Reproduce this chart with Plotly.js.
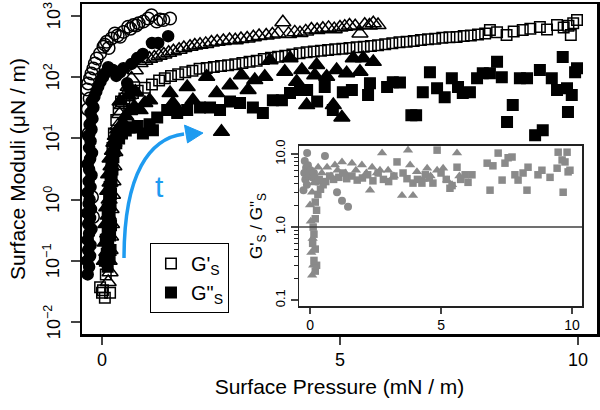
<!DOCTYPE html>
<html><head><meta charset="utf-8">
<script src="https://cdn.plot.ly/plotly-3.0.1.min.js"></script>
<style>body{margin:0;background:#fff}#g{width:600px;height:410px}</style>
</head><body><div id="g"></div>
<script>
// ---- main panel: surface moduli vs surface pressure ----
const circOpenX = [-0.31,-0.29,-0.25,-0.22,-0.18,-0.15,-0.11,-0.04,0.03,0.10,0.20,0.27,0.38,0.45,0.55,0.66,0.77,0.87,0.97,1.04,1.15,1.29,1.43,-0.21,-0.19,-0.28,-0.30,-0.26,0.06,0.14,0.33,0.60,0.72,1.22];
const circOpenY = [63,79,96,115,139,168,203,245,314,379,430,520,457,550,670,710,760,810,910,1030,810,860,910,1.1,0.52,12,30,45,340,300,480,620,700,880];

const circFillX = [-0.30,-0.27,-0.31,-0.25,-0.29,-0.24,-0.30,-0.27,-0.22,-0.29,-0.25,-0.31,-0.23,-0.28,-0.26,-0.30,-0.24,-0.28,-0.22,-0.27,-0.30,-0.25,-0.21,-0.27,-0.24,-0.29,-0.22,-0.26,-0.20,-0.24,-0.18,-0.22,-0.16,-0.12,-0.08,-0.03,0.02,0.06,0.13,0.23,0.53,0.55,0.74,1.05,1.18,1.39,0.38,0.45,0.30,0.62,0.86];
const circFillY = [0.06,0.08,0.10,0.12,0.15,0.18,0.22,0.28,0.33,0.4,0.5,0.6,0.7,0.85,1.0,1.3,1.6,2.0,2.5,3.1,3.8,4.6,5.8,7,9,11,14,17,21,26,32,40,48,58,70,85,100,115,146,131,80,69,205,362,362,468,120,140,105,165,240];

const triOpenX = [0.13,0.17,0.15,0.17,0.18,0.20,0.19,0.22,0.23,0.25,0.27,0.30,0.33,0.37,0.42,0.48,0.55,0.62,0.70,0.80,0.90,1.00,1.10,1.20,1.30,1.40,1.50,1.62,1.72,1.85,1.95,2.06,2.18,2.30,2.42,2.55,2.68,2.80,2.92,3.05,3.18,3.30,3.45,3.58,3.70,3.80,3.92,4.05,4.16,4.28,4.40,4.52,4.64,4.76,4.88,5.00,5.10,5.20,5.32,5.42,5.52,5.62,5.70,5.80];
const triOpenY = [0.045,0.065,0.1,0.15,0.25,0.4,0.7,1.2,2,3.5,6,10,16,25,35,50,70,95,130,170,185,200,210,225,235,250,265,280,300,315,330,340,350,370,380,390,405,400,420,430,450,470,480,500,520,790,510,540,525,560,600,590,620,640,610,650,670,700,680,520,720,700,760,710];

const triFillX = [0.05,0.10,0.07,0.12,0.08,0.13,0.10,0.15,0.12,0.17,0.14,0.19,0.17,0.22,0.25,0.28,0.33,0.44,0.50,0.58,0.68,0.80,0.90,1.00,0.38,0.55,0.70,1.43,1.49,1.79,1.91,2.20,2.41,2.51,2.69,2.93,3.07,3.21,3.42,3.53,3.84,3.95,4.09,4.20,4.30,4.47,4.51,4.72,4.86,4.93,5.04,5.14,5.28,5.42,5.49,5.70];
const triFillY = [0.10,0.14,0.2,0.28,0.4,0.55,0.75,1.0,1.4,1.9,2.6,3.5,4.7,6.3,8.5,11,14,18,23,28,33,29,38,42,40,50,58,55,38,69,42,102,55,12.8,74,108,62,90,102,190,123,204,84,131,35,108,158,102,35,131,22,116,204,123,204,178];

const sqOpenX = [-0.04,0.00,0.06,0.17,0.02,0.08,0.10,0.12,0.13,0.15,0.18,0.20,0.22,0.25,0.30,0.35,0.40,0.47,0.55,0.65,0.75,0.90,1.05,1.20,1.32,1.45,1.60,1.75,1.90,2.05,2.20,2.35,2.50,2.65,2.80,2.95,3.10,3.25,3.40,3.55,3.70,3.85,4.00,4.15,4.30,4.45,4.60,4.75,4.90,5.05,5.20,5.35,5.50,5.65,5.80,5.95,6.10,6.25,6.40,6.55,6.70,6.85,7.00,7.15,7.30,7.45,7.60,7.75,7.90,8.05,8.15,8.30,8.50,8.65,8.84,9.00,9.20,9.35,9.56,9.70,9.80,9.90,9.98,9.85];
const sqOpenY = [0.037,0.03,0.025,0.03,0.033,0.06,0.1,0.2,0.4,0.8,1.5,3,7,12,20,30,40,45,50,55,60,67,76,88,96,105,112,120,128,138,142,147,152,157,163,170,178,186,198,207,215,225,235,246,255,262,270,277,285,292,300,310,315,322,333,345,360,372,380,390,405,415,425,440,450,455,470,480,500,520,590,540,490,560,590,620,660,600,710,650,690,760,860,490];

const sqFillX = [0.12,0.06,0.16,0.10,0.18,0.13,0.08,0.17,0.12,0.19,0.14,0.16,0.12,0.18,0.15,0.19,0.16,0.20,0.18,0.22,0.20,0.24,0.26,0.30,0.36,0.42,0.50,0.58,0.65,0.75,0.86,1.00,1.07,1.16,1.37,1.58,1.79,2.06,2.27,2.48,2.69,2.90,3.17,3.38,3.59,3.78,3.95,4.16,4.31,4.52,4.68,4.85,5.06,5.25,5.59,5.63,5.99,6.11,6.26,6.50,6.60,6.74,6.89,7.04,7.20,7.35,7.48,7.58,7.73,7.88,8.00,8.15,8.30,8.40,8.51,8.63,8.78,8.93,9.10,9.20,9.26,9.45,9.56,9.68,9.77,9.79,9.87,9.94,9.98];
const sqFillY = [0.08,0.1,0.11,0.13,0.15,0.18,0.22,0.26,0.32,0.38,0.46,0.56,0.68,0.82,1.0,1.25,1.6,2.0,2.5,3.1,3.9,4.9,6.2,8.3,10,12,13.5,15,15,16,12,17,13.6,22,29,26,29,32,32,29,40,38,32,26,42,42,55,62,62,40,69,29,57,62,51,80,69,83,82,24,24,57,121,66,47,96,69,55,57,96,116,116,178,100,18.5,35,96,96,11.3,131,13.6,96,62,213,66,27,51,121,140];

// ---- inset: G'/G'' ratio ----
const inCircX = [-0.11,0.57,1.03,1.22,1.45,-0.2,-0.15,-0.22,-0.08,-0.18,-0.05,0.02,-0.12,0.08,0.15,0.25,-0.25];
const inCircY = [10.3,9.4,3.0,2.3,1.9,8,6.5,5.5,7,4.5,5,6,3.8,4.8,5.5,4.2,3.2];
const inTriX = [0.08,0.12,0.05,0.1,0.03,0.0,0.08,0.14,0.2,0.31,0.45,0.65,0.8,0.95,1.05,1.22,1.35,1.6,1.75,1.98,2.15,2.29,2.37,2.55,2.67,2.75,2.98,3.2,3.51,3.74,3.82,3.93,4.08,4.3,4.47,4.6,4.85,5.08,5.23,5.42,5.61,5.7];
const inTriY = [0.22,0.3,0.45,0.7,1.2,2,3,4,5,6.6,5.5,6.6,5,7.1,6,7.8,5.5,7.5,6,7.1,5.5,3.2,6.6,5.5,6,10.3,6,5,2.7,11.3,7.1,2.7,5.7,4.5,6.4,5,6,6.4,4.4,3.8,10.3,5];
const inSqX = [0.2,0.25,0.15,0.2,0.1,0.15,0.12,0.2,0.25,0.2,0.3,0.4,0.5,0.35,0.6,0.75,0.9,1.1,1.25,1.4,1.6,1.8,2.0,2.2,2.4,2.6,2.8,3.0,3.2,3.32,3.55,3.7,3.93,4.1,4.27,4.4,4.55,4.69,4.85,5.0,5.2,5.34,5.42,5.61,5.75,5.92,6.03,6.18,6.76,6.87,6.98,7.18,7.33,7.44,7.56,7.71,7.82,7.94,8.13,8.28,8.32,8.7,8.85,9.16,9.43,9.47,9.62,9.66,9.73,9.81,9.85,9.92];
const inSqY = [0.25,0.3,0.35,0.5,0.6,0.8,1.0,1.3,1.7,2.2,2.8,3.3,3.8,4.5,4.2,5,4.5,4.8,5.5,4.6,5,4.4,4.7,5.2,4.3,5.5,4.5,4.2,5,7.8,5.5,4.6,4,4.5,4,5.2,4.7,4,11.3,5.5,4.5,3.4,3.7,6.6,4.5,5.2,4.1,5.2,7.5,3.2,6.9,10.3,4.4,7.5,8.9,9.1,5.2,4.4,5.5,3.2,6.6,5.2,6,4.8,6.4,10.6,8.3,3.0,7.8,10.6,5.7,6.0];

const mainTickVals = [0.01,0.1,1,10,100,1000];
const mainTickText = ['10<sup>\u22122</sup>','10<sup>\u22121</sup>','10<sup>0</sup>','10<sup>1</sup>','10<sup>2</sup>','10<sup>3</sup>'];
const xTickVals = [0,5,10];
const insetTickVals = [0.1,1,10];
const insetTickText = ['0.1','1.0','10.0'];
const insetMinor = [0.2,0.3,0.4,0.5,0.6,0.7,0.8,0.9,2,3,4,5,6,7,8,9];
const legendNames = ["G'<sub>S</sub>", 'G"<sub>S</sub>'];

const FONT = 'Liberation Sans, Arial, sans-serif';
const BLUE = '#1E9BF0';
const GRAY = '#8a8a8a';

function tr(x, y, sym, size, opts) {
  return Object.assign({
    type: 'scatter', mode: 'markers', x: x, y: y, xaxis: 'x', yaxis: 'y',
    showlegend: false, hoverinfo: 'skip',
    marker: {symbol: sym, size: size, color: 'black', line: {width: 1.5, color: 'black'}}
  }, opts || {});
}
function gr(x, y, sym, size) {
  return {type: 'scatter', mode: 'markers', x: x, y: y, xaxis: 'x2', yaxis: 'y2',
    showlegend: false, hoverinfo: 'skip',
    marker: {symbol: sym, size: size, color: GRAY, line: {width: 0}}};
}

const data = [
  tr(circOpenX, circOpenY, 'circle-open', 12.5),
  tr(triOpenX, triOpenY, 'triangle-up-open', 14),
  tr(sqOpenX, sqOpenY, 'square-open', 10.5, {showlegend: true, name: legendNames[0]}),
  tr(circFillX, circFillY, 'circle', 11),
  tr(triFillX, triFillY, 'triangle-up', 14),
  tr(sqFillX, sqFillY, 'square', 10.5, {showlegend: true, name: legendNames[1]}),
  gr(inCircX, inCircY, 'circle', 8),
  gr(inTriX, inTriY, 'triangle-up', 9),
  gr(inSqX, inSqY, 'square', 7.5)
];

// main y tick labels placed as rotated text next to the axis ticks
const yTickLabels = mainTickVals.map((v, i) => ({
  text: mainTickText[i], xref: 'paper', yref: 'y', x: -0.058, y: Math.log10(v),
  xanchor: 'center', yanchor: 'middle', textangle: -90, showarrow: false,
  font: {size: 18, family: FONT, color: 'black'}
}));

const layout = {
  width: 600, height: 410,
  margin: {l: 82, r: 3, t: 4, b: 76},
  paper_bgcolor: 'white', plot_bgcolor: 'white',
  font: {family: FONT, color: 'black'},
  showlegend: true,
  legend: {x: 0.132, y: 0.276, xanchor: 'left', yanchor: 'top',
    bordercolor: 'black', borderwidth: 1, bgcolor: 'white',
    font: {size: 20, family: FONT}, itemwidth: 30},
  xaxis: {range: [-0.42, 10.4], tickvals: xTickVals, ticks: 'outside', ticklen: 8, tickwidth: 2,
    showline: true, mirror: true, linewidth: 2.5, linecolor: 'black', showgrid: false, zeroline: false,
    tickfont: {size: 18},
    title: {text: 'Surface Pressure (mN / m)', font: {size: 21}, standoff: 10}},
  yaxis: {type: 'log', range: [-2.196, 3.196], tickvals: mainTickVals, showticklabels: false,
    ticks: 'outside', ticklen: 9, tickwidth: 2,
    showline: true, mirror: true, linewidth: 2.5, linecolor: 'black', showgrid: false, zeroline: false,
    title: {text: 'Surface Moduli (\u03bcN / m)', font: {size: 21}, standoff: 39}},
  xaxis2: {domain: [0.4214, 0.9709], anchor: 'y2', range: [-0.42, 10.38], tickvals: xTickVals,
    ticks: 'outside', ticklen: 6, tickwidth: 1.5, showline: true, mirror: true, linewidth: 1.5,
    linecolor: '#222', showgrid: false, zeroline: false, tickfont: {size: 14}},
  yaxis2: {domain: [0.0848, 0.5697], anchor: 'x2', type: 'log', range: [-1.08, 1.11],
    tickvals: insetTickVals, ticktext: insetTickText, tickangle: -90, ticks: 'outside', ticklen: 7, tickwidth: 1.5,
    minor: {ticks: 'outside', ticklen: 4, tickvals: insetMinor, tickwidth: 1, tickcolor: '#222', showgrid: false},
    showline: true, mirror: true, linewidth: 1.5, linecolor: '#222', showgrid: false, zeroline: false,
    tickfont: {size: 13}, title: {text: 'G\'<sub>S</sub> / G"<sub>S</sub>', font: {size: 17}, standoff: 6}},
  shapes: [
    {type: 'line', xref: 'x2 domain', yref: 'y2', x0: 0, x1: 1, y0: 1, y1: 1, line: {color: '#404040', width: 1.5}},
    {type: 'path', xref: 'paper', yref: 'paper',
      path: 'M 0.0816,0.2303 C 0.0816,0.4879 0.1320,0.5939 0.1981,0.6061',
      line: {color: BLUE, width: 3.5}},
    {type: 'path', xref: 'paper', yref: 'paper',
      path: 'M 0.2350,0.6091 L 0.1990,0.6330 L 0.2049,0.5791 Z',
      fillcolor: BLUE, line: {color: BLUE, width: 1}}
  ],
  annotations: [
    {text: 't', xref: 'paper', yref: 'paper', x: 0.1379, y: 0.4455, showarrow: false,
      font: {size: 30, color: BLUE, family: FONT}}
  ].concat(yTickLabels)
};

Plotly.newPlot('g', data, layout, {staticPlot: true, displayModeBar: false});
</script>
</body></html>
